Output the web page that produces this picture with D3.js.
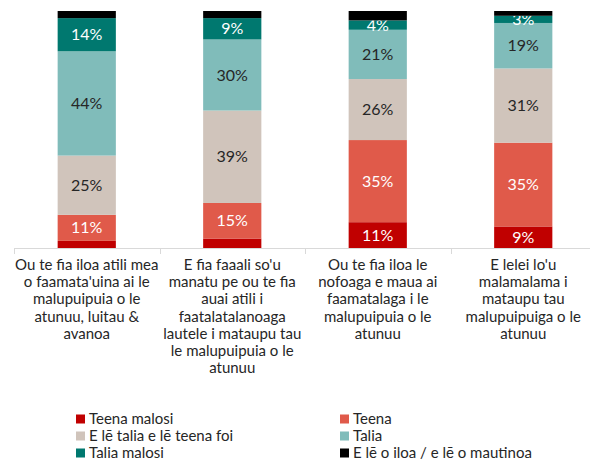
<!DOCTYPE html>
<html>
<head>
<meta charset="utf-8">
<script src="https://cdn.jsdelivr.net/npm/d3@7"></script>
<style>
  body { margin: 0; background: #fff; }
  svg { font-family: Lato, "Noto Sans", sans-serif; }
</style>
</head>
<body>
<div id="chart"></div>
<script>
const width = 590, height = 462,
  margin = ({ top: 11, right: 0, bottom: 214, left: 14 });

// category labels, already broken into lines as in the picture
const categories = [
  ["Ou te fia iloa atili mea", "o faamata'uina ai le", "malupuipuia o le", "atunuu, luitau &", "avanoa"],
  ["E fia faaali so'u", "manatu pe ou te fia", "auai atili i", "faatalatalanoaga", "lautele i mataupu tau", "le malupuipuia o le", "atunuu"],
  ["Ou te fia iloa le", "nofoaga e maua ai", "faamatalaga i le", "malupuipuia o le", "atunuu"],
  ["E lelei lo'u", "malamalama i", "mataupu tau", "malupuipuiga o le", "atunuu"]
];
const seriesNames = ["Teena malosi", "Teena", "E lē talia e lē teena foi", "Talia", "Talia malosi", "E lē o iloa / e lē o mautinoa"];
const colors = ["#C00000", "#E05A4A", "#D0C4BB", "#80BCBA", "#00786F", "#000000"];
const labelColors = ["#fff", "#fff", "#262626", "#262626", "#fff", "#fff"];

// values per series (percent), one per category
const teenaMalosi = [3, 4, 11, 9];
const teena = [11, 15, 35, 35];
const neutral = [25, 39, 26, 31];
const talia = [44, 30, 21, 19];
const taliaMalosi = [14, 9, 4, 3];
const leIloa = [3, 3, 4, 2];
const seriesValues = [teenaMalosi, teena, neutral, talia, taliaMalosi, leIloa];

const rows = categories.map((c, i) => {
  const r = { idx: i };
  seriesNames.forEach((s, j) => r[s] = seriesValues[j][i]);
  return r;
});

const stack = d3.stack().keys(seriesNames).offset(d3.stackOffsetExpand);
const layers = stack(rows);

const svg = d3.select("#chart").append("svg")
  .attr("width", width).attr("height", height);

const plotRight = 596;
let x = d3.scaleBand()
  .domain(rows.map(d => d.idx))
  .range([margin.left, plotRight])
  .paddingInner(0).paddingOuter(0);
const barW = x.bandwidth() * 0.4;

let y = d3.scaleLinear()
  .domain([0, 1])
  .range([height - margin.bottom, margin.top]);

const layerG = svg.selectAll(".layer")
  .data(layers)
  .join("g")
  .attr("class", "layer")
  .attr("fill", (d, i) => colors[i]);

layerG.selectAll("rect")
  .data(d => d)
  .join("rect")
  .attr("x", d => x(d.data.idx) + (x.bandwidth() - barW) / 2)
  .attr("width", barW)
  .attr("y", d => y(d[1]))
  .attr("height", d => y(d[0]) - y(d[1]));

// value labels (the thin bottom/top slices on some bars carry none)
layerG.each(function(layer, i) {
  d3.select(this).selectAll("text")
    .data(layer.filter(d => {
      const v = d.data[layer.key];
      if (i === 5) return false;
      if (i === 0) return v >= 9;
      return true;
    }))
    .join("text")
    .attr("x", d => x(d.data.idx) + x.bandwidth() / 2)
    .attr("y", d => (y(d[0]) + y(d[1])) / 2)
    .attr("dy", "0.35em")
    .attr("text-anchor", "middle")
    .attr("font-size", 16)
    .attr("fill", labelColors[i])
    .text(d => d.data[layer.key] + "%");
});

// category axis
const baseY = y(0);
svg.append("line")
  .attr("x1", margin.left).attr("x2", plotRight)
  .attr("y1", baseY + 0.5).attr("y2", baseY + 0.5)
  .attr("stroke", "#D9D9D9");
const bounds = rows.map(d => x(d.idx)).concat([plotRight]);
svg.selectAll(".tick")
  .data(bounds)
  .join("line")
  .attr("class", "tick")
  .attr("x1", d => Math.round(d) + 0.5).attr("x2", d => Math.round(d) + 0.5)
  .attr("y1", baseY).attr("y2", baseY + 6)
  .attr("stroke", "#D9D9D9");

const catG = svg.selectAll(".cat")
  .data(categories)
  .join("text")
  .attr("class", "cat")
  .attr("text-anchor", "middle")
  .attr("font-size", 15)
  .attr("fill", "#262626");
catG.selectAll("tspan")
  .data((d, i) => d.map(line => ({ line, i })))
  .join("tspan")
  .attr("x", d => x(d.i) + x.bandwidth() / 2)
  .attr("y", (d, k) => 270 + k * 17.2)
  .text(d => d.line);

// legend
const legend = svg.selectAll(".leg")
  .data(seriesNames)
  .join("g")
  .attr("class", "leg")
  .attr("transform", (d, i) => `translate(${i % 2 ? 340 : 76},${419 + Math.floor(i / 2) * 17})`);
legend.append("rect")
  .attr("x", 0).attr("y", -4.5).attr("width", 9).attr("height", 9)
  .attr("fill", (d, i) => colors[i]);
legend.append("text")
  .attr("x", 13).attr("dy", "0.35em")
  .attr("font-size", 15)
  .attr("fill", "#262626")
  .text(d => d);
</script>
</body>
</html>
